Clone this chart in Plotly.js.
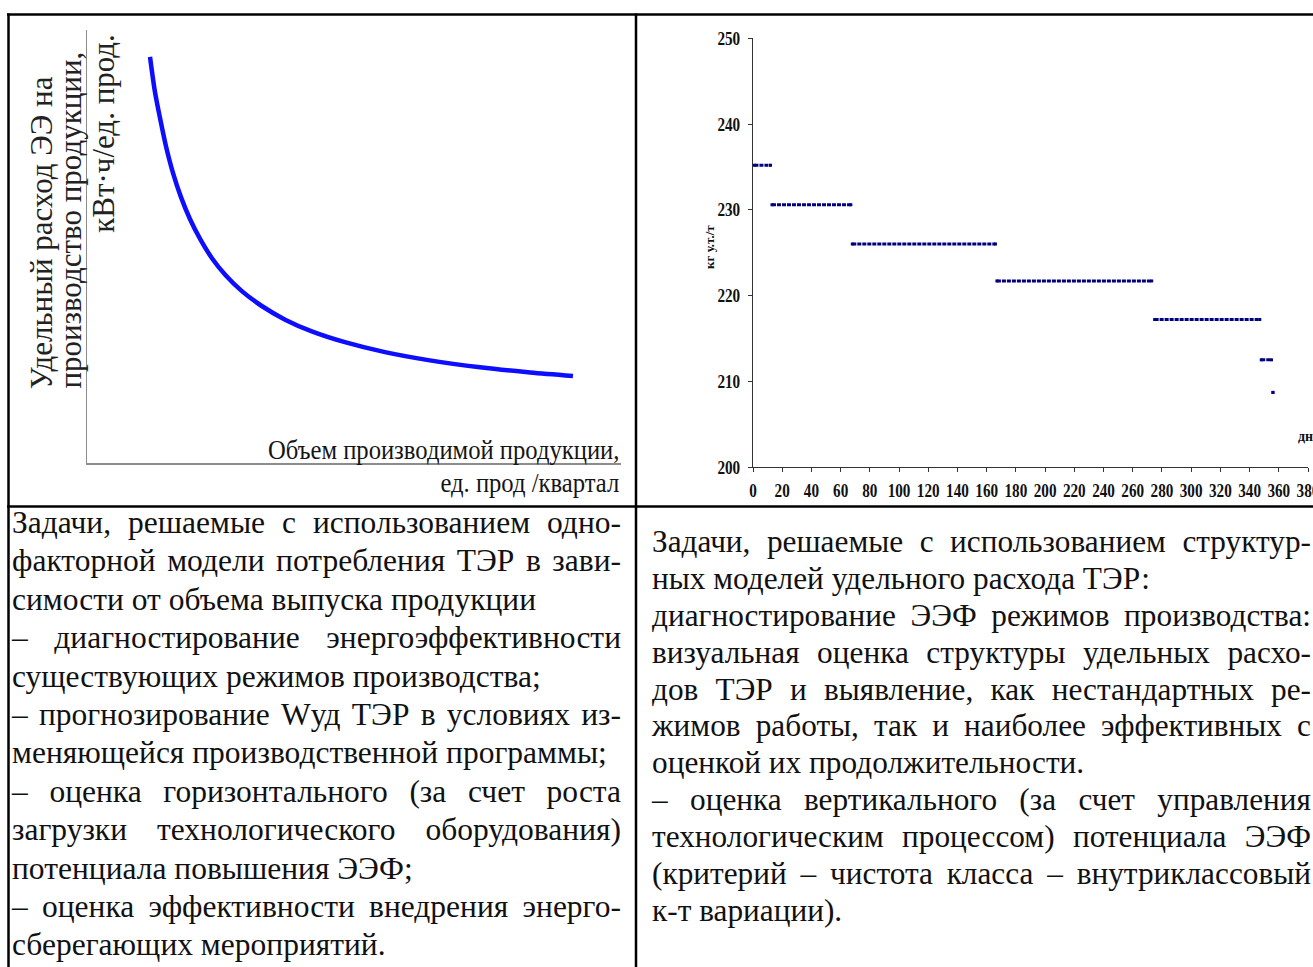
<!DOCTYPE html>
<html><head><meta charset="utf-8">
<script src="https://cdn.plot.ly/plotly-3.0.1.min.js"></script>
<style>
html,body{margin:0;padding:0;background:#fff;}
#wrap{position:relative;width:1313px;height:967px;overflow:hidden;background:#fff;}
#plot{position:absolute;left:0;top:0;}
.cell{position:absolute;font-family:"Liberation Serif","Times New Roman",serif;color:#111;}
.ln{display:block;text-align:left;overflow:visible;}
.j{text-align:justify;text-align-last:justify;}
</style></head>
<body><div id="wrap"><div id="plot"></div><div id="leftText" class="cell"></div><div id="rightText" class="cell"></div></div>
<script>
// ---- Left chart: one-factor model (specific consumption vs production volume)
const volume = [11.8, 12.7, 13.7, 14.8, 16.1, 17.6, 19.3, 21.2, 23.4, 26.0, 29.0, 32.8, 37.1, 42.1, 48.3, 55.8, 64.2, 73.6, 83.0, 91.0];
const specificConsumption = [93.8, 85.9, 79.5, 73.1, 67.0, 61.4, 56.3, 51.7, 47.3, 43.3, 39.7, 36.2, 33.1, 30.4, 27.9, 25.6, 23.7, 22.1, 20.9, 20.1];

// ---- Right chart: structural model, regimes (day ranges) and their specific consumption, kg c.e./t
const regimeStartDay = [1, 13, 68, 167, 275, 348, 356];
const regimeEndDay   = [12, 67, 166, 273, 347, 355, 356];
const regimeLevel    = [235.2, 230.6, 226.0, 221.7, 217.2, 212.5, 208.7];
const dayTicks = [0, 20, 40, 60, 80, 100, 120, 140, 160, 180, 200, 220, 240, 260, 280, 300, 320, 340, 360, 380];
const levelTicks = [200, 210, 220, 230, 240, 250];

// ---- Text cells
const leftLines = [
  ["Задачи, решаемые с использованием одно-", true],
  ["факторной модели потребления ТЭР в зави-", true],
  ["симости от объема выпуска продукции", false],
  ["– диагностирование энергоэффективности", true],
  ["существующих режимов производства;", false],
  ["– прогнозирование Wуд ТЭР в условиях из-", true],
  ["меняющейся производственной программы;", false],
  ["– оценка горизонтального (за счет роста", true],
  ["загрузки технологического оборудования)", true],
  ["потенциала повышения ЭЭФ;", false],
  ["– оценка эффективности внедрения энерго-", true],
  ["сберегающих мероприятий.", false]
];
const rightLines = [
  ["Задачи, решаемые с использованием структур-", true],
  ["ных моделей удельного расхода ТЭР:", false],
  ["диагностирование ЭЭФ режимов производства:", true],
  ["визуальная оценка структуры удельных расхо-", true],
  ["дов ТЭР и выявление, как нестандартных ре-", true],
  ["жимов работы, так и наиболее эффективных с", true],
  ["оценкой их продолжительности.", false],
  ["– оценка вертикального (за счет управления", true],
  ["технологическим процессом) потенциала ЭЭФ", true],
  ["(критерий – чистота класса – внутриклассовый", true],
  ["к-т вариации).", false]
];

const W = 1313, H = 967;
const fx = x => x / W;
const fy = y => 1 - y / H;

const segX = [], segY = [];
for (let i = 0; i < regimeLevel.length; i++) {
  segX.push(regimeStartDay[i], regimeEndDay[i], null);
  segY.push(regimeLevel[i], regimeLevel[i], null);
}

const serif = "Liberation Serif, Times New Roman, serif";

const traces = [
  {
    x: volume, y: specificConsumption, xaxis: 'x', yaxis: 'y',
    type: 'scatter', mode: 'lines',
    line: {color: '#0d0dff', width: 4.5, shape: 'spline', smoothing: 0.8},
    hoverinfo: 'skip'
  },
  {
    x: segX, y: segY, xaxis: 'x2', yaxis: 'y2',
    type: 'scatter', mode: 'lines+markers',
    line: {color: '#000080', width: 3, dash: '4px,1px'},
    marker: {color: '#000080', size: 3, symbol: 'square'},
    connectgaps: false, hoverinfo: 'skip'
  }
];

const baseAxis = {showgrid: false, zeroline: false, fixedrange: true};
const tickFont = {family: serif, size: 19, color: '#111', weight: 'bold'};

const layout = {
  width: W, height: H,
  margin: {l: 0, r: 0, t: 0, b: 0, pad: 0},
  paper_bgcolor: 'rgba(0,0,0,0)', plot_bgcolor: 'rgba(0,0,0,0)',
  showlegend: false,
  xaxis: Object.assign({}, baseAxis, {
    domain: [fx(87), fx(621)], range: [0, 100], anchor: 'y',
    showline: true, linecolor: '#8c8c8c', linewidth: 1.5,
    ticks: '', showticklabels: false
  }),
  yaxis: Object.assign({}, baseAxis, {
    domain: [fy(463), fy(30)], range: [0, 100], anchor: 'x',
    showline: true, linecolor: '#8c8c8c', linewidth: 1.5,
    ticks: '', showticklabels: false
  }),
  xaxis2: Object.assign({}, baseAxis, {
    domain: [fx(753), fx(1308)], range: [0, 380], anchor: 'y2',
    tickmode: 'array', tickvals: dayTicks, tickangle: 0,
    ticks: 'outside', ticklen: 4, tickwidth: 1, tickcolor: '#333',
    showline: true, linecolor: '#333', linewidth: 1,
    tickfont: tickFont, ticklabeloverflow: 'allow',
    ticklabelstandoff: 2
  }),
  yaxis2: Object.assign({}, baseAxis, {
    domain: [fy(467), fy(38.3)], range: [200, 250], anchor: 'x2',
    tickmode: 'array', tickvals: levelTicks, tickangle: 0,
    ticks: 'outside', ticklen: 4, tickwidth: 1, tickcolor: '#333',
    showline: true, linecolor: '#333', linewidth: 1,
    tickfont: tickFont, ticklabeloverflow: 'allow',
    ticklabelstandoff: 4
  }),
  annotations: [
    {text: 'Удельный расход ЭЭ на', x: fx(41.7), y: fy(390), xanchor: 'center', yanchor: 'bottom', textangle: -90},
    {text: 'производство продукции,', x: fx(70), y: fy(390), xanchor: 'center', yanchor: 'bottom', textangle: -90},
    {text: 'кВт·ч/ед. прод.', x: fx(103.3), y: fy(33), xanchor: 'center', yanchor: 'top', textangle: -90},
    {text: 'Объем производимой продукции,', x: fx(621), y: fy(450), xanchor: 'right', yanchor: 'middle', font: {family: serif, size: 28, color: '#151515'}},
    {text: 'ед. прод /квартал', x: fx(620), y: fy(482), xanchor: 'right', yanchor: 'middle', font: {family: serif, size: 28, color: '#151515'}},
    {text: 'кг у.т./т', x: fx(709), y: fy(247), xanchor: 'center', yanchor: 'middle', textangle: -90, font: {family: serif, size: 13, color: '#111', weight: 'bold'}},
    {text: 'дн', x: fx(1297), y: fy(437), xanchor: 'left', yanchor: 'middle', font: {family: serif, size: 14, color: '#111', weight: 'bold'}}
  ].map(a => Object.assign({xref: 'paper', yref: 'paper', showarrow: false, borderpad: 0,
    font: {family: serif, size: 31, color: '#222'}}, a)),
  shapes: [
    {x0: fx(7), x1: 1, y0: fy(14.5), y1: fy(14.5)},
    {x0: fx(8.5), x1: fx(8.5), y0: 0, y1: fy(13.5)},
    {x0: fx(636), x1: fx(636), y0: 0, y1: fy(13.5)},
    {x0: fx(7), x1: 1, y0: fy(506.5), y1: fy(506.5)}
  ].map(s => Object.assign({type: 'line', xref: 'paper', yref: 'paper', layer: 'above',
    line: {color: '#000', width: 2.5}}, s))
};

// narrow (condensed) look of the original printed labels
function condense(selector, f, pivot) {
  document.querySelectorAll(selector).forEach(el => {
    const bb = el.getBBox();
    const px = pivot === 'right' ? bb.x + bb.width : (pivot === 'left' ? bb.x : bb.x + bb.width / 2);
    const t = el.getAttribute('transform') || '';
    el.setAttribute('transform', t + ' translate(' + px + ',0) scale(' + f + ',1) translate(' + (-px) + ',0)');
  });
}

Plotly.newPlot('plot', traces, layout, {staticPlot: true, displayModeBar: false}).then(() => {
  condense('.x2tick text', 0.8, 'center');
  condense('.y2tick text', 0.8, 'right');
  condense('.annotation[data-index="3"] .annotation-text', 0.88, 'right');
  condense('.annotation[data-index="4"] .annotation-text', 0.88, 'right');
});

function fillCell(id, lines, left, top, width, fontSize, lineHeight) {
  const el = document.getElementById(id);
  el.style.left = left + 'px';
  el.style.top = top + 'px';
  el.style.width = width + 'px';
  el.style.fontSize = fontSize + 'px';
  el.style.lineHeight = lineHeight + 'px';
  lines.forEach(([t, just]) => {
    const d = document.createElement('div');
    d.className = 'ln' + (just ? ' j' : '');
    d.style.height = lineHeight + 'px';
    d.textContent = t;
    el.appendChild(d);
  });
}
fillCell('leftText', leftLines, 12, 504, 609, 31.5, 38.4);
fillCell('rightText', rightLines, 652, 524, 659, 31.3, 36.9);
</script>
</body></html>
